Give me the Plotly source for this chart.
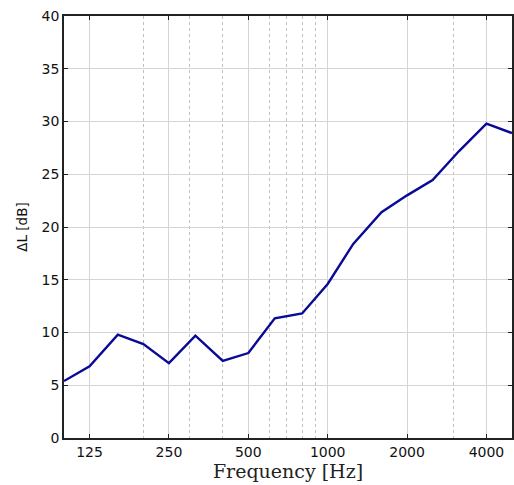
import plotly.graph_objects as go

freq = [100, 125, 160, 200, 250, 315, 400, 500, 630, 800, 1000, 1250, 1600, 2000, 2500, 3150, 4000, 5000]
delta_l = [5.4, 6.8, 9.8, 8.9, 7.1, 9.7, 7.3, 8.05, 11.35, 11.8, 14.6, 18.4, 21.4, 23.0, 24.45, 27.2, 29.8, 28.9]

major_ticks = [125, 250, 500, 1000, 2000, 4000]
major_labels = ["125", "250", "500", "1000", "2000", "4000"]
minor_ticks = [200, 300, 400, 600, 700, 800, 900, 3000]
y_ticks = [0, 5, 10, 15, 20, 25, 30, 35, 40]

fig = go.Figure()
fig.add_trace(go.Scatter(x=freq, y=delta_l, mode="lines",
                         line=dict(color="#0a0a96", width=2.4), showlegend=False))

fig.update_layout(
    width=514, height=485,
    margin=dict(l=64, r=0, t=16, b=47),
    paper_bgcolor="white", plot_bgcolor="white",
    font=dict(family="DejaVu Sans", size=14, color="#111"),
)
fig.update_xaxes(
    type="log", range=[2, 3.69897],
    tickvals=major_ticks, ticktext=major_labels,
    showgrid=True, gridcolor="#d4d4d4", gridwidth=1.2,
    minor=dict(tickvals=minor_ticks, showgrid=True, gridcolor="#c0c0c0",
               griddash="dot", gridwidth=1, ticks=""),
    showline=True, linecolor="#222", linewidth=1.5, mirror="ticks",
    ticks="inside", ticklen=4, tickcolor="#222",
    title=dict(text="Frequency [Hz]", font=dict(family="DejaVu Serif", size=19, color="#222"), standoff=2),
    zeroline=False,
)
fig.update_yaxes(
    range=[0, 40], tickvals=y_ticks,
    showgrid=True, gridcolor="#d4d4d4", gridwidth=1.2,
    showline=True, linecolor="#222", linewidth=1.5, mirror="ticks",
    ticks="inside", ticklen=4, tickcolor="#222",
    title=dict(text="ΔL [dB]", font=dict(family="DejaVu Sans", size=13.5, color="#111"), standoff=11),
    zeroline=False,
)

fig.write_html("out.html", config={"displayModeBar": False},
               post_script="document.body.style.margin='0';document.body.style.overflow='hidden';")
